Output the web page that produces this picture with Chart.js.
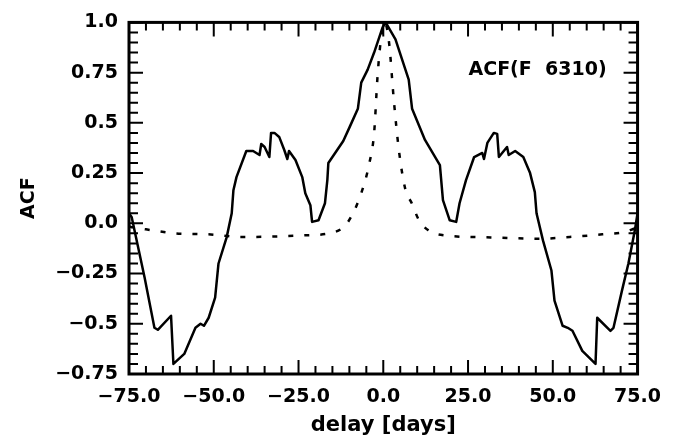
<!DOCTYPE html>
<html>
<head>
<meta charset="utf-8">
<script src="https://cdn.jsdelivr.net/npm/chart.js@4.4.0/dist/chart.umd.min.js"></script>
<style>
  html, body { margin: 0; padding: 0; background: #fff; }
</style>
</head>
<body>
<canvas id="acfChart" width="673" height="439"></canvas>
<script>
// solid curve: ACF of the observed light curve (delay in days)
const solidDelay = [-75.0, -74.2, -70.4, -67.5, -66.5, -62.6, -61.9, -58.7, -55.4, -53.9, -52.9, -51.5, -49.6, -48.6, -46.2, -44.7, -44.2, -43.3, -40.4, -38.4, -36.5, -36.0, -35.0, -33.6, -33.1, -32.1, -30.7, -29.2, -28.3, -27.8, -25.9, -23.9, -23.0, -21.5, -21.0, -19.1, -17.2, -16.5, -16.2, -13.8, -11.8, -9.9, -7.5, -6.5, -4.6, -2.7, -0.2, 0.7, 3.6, 7.5, 8.5, 12.3, 16.7, 17.6, 19.6, 21.5, 22.5, 24.4, 26.8, 29.2, 29.7, 30.7, 32.6, 33.6, 34.1, 36.5, 37.0, 38.9, 41.3, 43.3, 44.7, 45.2, 47.1, 49.6, 50.5, 52.9, 54.4, 55.8, 58.7, 62.6, 63.1, 67.0, 67.9, 70.4, 72.3, 74.2, 75.0];
const solidAcf = [0.05, 0.03, -0.27, -0.52, -0.53, -0.46, -0.70, -0.65, -0.52, -0.50, -0.51, -0.47, -0.37, -0.20, -0.07, 0.05, 0.165, 0.23, 0.36, 0.36, 0.34, 0.395, 0.38, 0.33, 0.45, 0.45, 0.43, 0.365, 0.32, 0.36, 0.315, 0.23, 0.15, 0.09, 0.007, 0.015, 0.10, 0.215, 0.30, 0.36, 0.41, 0.48, 0.57, 0.70, 0.765, 0.85, 0.975, 1.0, 0.915, 0.715, 0.57, 0.415, 0.29, 0.115, 0.015, 0.007, 0.10, 0.215, 0.33, 0.35, 0.32, 0.40, 0.45, 0.445, 0.33, 0.38, 0.34, 0.36, 0.33, 0.25, 0.155, 0.05, -0.085, -0.235, -0.385, -0.51, -0.52, -0.535, -0.635, -0.70, -0.47, -0.535, -0.52, -0.335, -0.20, -0.035, 0.05];

// dotted curve: window / sampling ACF
const dashDelay = [-75, -73.9, -70.0, -61.3, -51.6, -41.9, -23.5, -14.3, -10.4, -6.5, -4.1, -2.7, -1.7, -0.8, 0.4, 1.7, 3.1, 4.6, 6.5, 8.4, 10.4, 13.3, 18.1, 31.7, 46.2, 55.0, 64.6, 71.4, 73.9, 75];
const dashAcf = [-0.015, -0.02, -0.03, -0.05, -0.055, -0.068, -0.06, -0.043, 0.007, 0.15, 0.30, 0.45, 0.73, 0.90, 1.0, 0.90, 0.615, 0.365, 0.17, 0.10, 0.02, -0.035, -0.06, -0.07, -0.077, -0.068, -0.055, -0.043, -0.027, -0.02];

const xTickValues = [-75, -50, -25, 0, 25, 50, 75];
const xTickLabels = ['\u221275.0', '\u221250.0', '\u221225.0', '0.0', '25.0', '50.0', '75.0'];
const yTickValues = [-0.75, -0.5, -0.25, 0, 0.25, 0.5, 0.75, 1.0];
const yTickLabels = ['\u22120.75', '\u22120.5', '\u22120.25', '0.0', '0.25', '0.5', '0.75', '1.0'];
const plotLabel = 'ACF(F  6310)';

const labelFont = { family: 'DejaVu Sans', weight: 'bold', size: 19 };

function pairs(xs, ys) {
    return xs.map((x, i) => ({ x: x, y: ys[i] }));
}

// frame with inward ticks on all four sides, plus the label in the corner
const framePlugin = {
    id: 'frame',
    afterDatasetsDraw(chart) {
        const ctx = chart.ctx;
        const a = chart.chartArea;
        const xs = chart.scales.x;
        const ys = chart.scales.y;
        ctx.save();
        ctx.strokeStyle = '#000';
        ctx.lineWidth = 2;
        ctx.beginPath();
        for (let k = -15; k <= 15; k++) {
            const px = xs.getPixelForValue(k * 5);
            const len = k % 5 === 0 ? 14 : 8;
            ctx.moveTo(px, a.bottom); ctx.lineTo(px, a.bottom - len);
            ctx.moveTo(px, a.top); ctx.lineTo(px, a.top + len);
        }
        for (let k = -15; k <= 20; k++) {
            const py = ys.getPixelForValue(k * 0.05);
            const len = k % 5 === 0 ? 14 : 9;
            ctx.moveTo(a.left, py); ctx.lineTo(a.left + len, py);
            ctx.moveTo(a.right, py); ctx.lineTo(a.right - len, py);
        }
        ctx.stroke();
        ctx.lineWidth = 3;
        ctx.strokeRect(a.left, a.top, a.right - a.left, a.bottom - a.top);

        ctx.fillStyle = '#000';
        ctx.font = 'bold 19px "DejaVu Sans"';
        ctx.textAlign = 'right';
        ctx.textBaseline = 'alphabetic';
        ctx.fillText(plotLabel, a.right - 31, a.top + 53);
        ctx.restore();
    }
};

new Chart(document.getElementById('acfChart'), {
    type: 'line',
    data: {
        datasets: [
            {
                data: pairs(solidDelay, solidAcf),
                borderColor: '#000',
                borderWidth: 2.5,
                borderJoinStyle: 'round',
                borderCapStyle: 'round',
                pointRadius: 0,
                tension: 0,
                fill: false
            },
            {
                data: pairs(dashDelay, dashAcf),
                borderColor: '#000',
                borderWidth: 2.5,
                borderDash: [5, 11],
                pointRadius: 0,
                cubicInterpolationMode: 'monotone',
                fill: false
            }
        ]
    },
    options: {
        responsive: false,
        animation: false,
        devicePixelRatio: 1,
        layout: { padding: { top: 22, right: 27, bottom: 0, left: 0 } },
        plugins: { legend: { display: false }, tooltip: { enabled: false } },
        scales: {
            x: {
                type: 'linear',
                min: -75,
                max: 75,
                afterBuildTicks: s => { s.ticks = xTickValues.map(v => ({ value: v })); },
                afterFit: s => { s.height = 65; },
                grid: { display: false, drawTicks: false },
                border: { display: false },
                ticks: {
                    callback: (v, i) => xTickLabels[i],
                    padding: 12,
                    maxRotation: 0,
                    autoSkip: false,
                    color: '#000',
                    font: labelFont
                },
                title: {
                    display: true,
                    text: 'delay [days]',
                    color: '#000',
                    font: { family: 'DejaVu Sans', weight: 'bold', size: 21 },
                    padding: { top: 0, bottom: 1 }
                }
            },
            y: {
                type: 'linear',
                min: -0.75,
                max: 1.0,
                afterBuildTicks: s => { s.ticks = yTickValues.map(v => ({ value: v })); },
                afterFit: s => { s.width = 129; },
                grid: { display: false, drawTicks: false },
                border: { display: false },
                ticks: {
                    callback: (v, i) => yTickLabels[i],
                    padding: 11,
                    autoSkip: false,
                    color: '#000',
                    font: labelFont
                },
                title: {
                    display: true,
                    text: 'ACF',
                    color: '#000',
                    font: labelFont,
                    padding: { top: 18, bottom: 0 }
                }
            }
        }
    },
    plugins: [framePlugin]
});
</script>
</body>
</html>
